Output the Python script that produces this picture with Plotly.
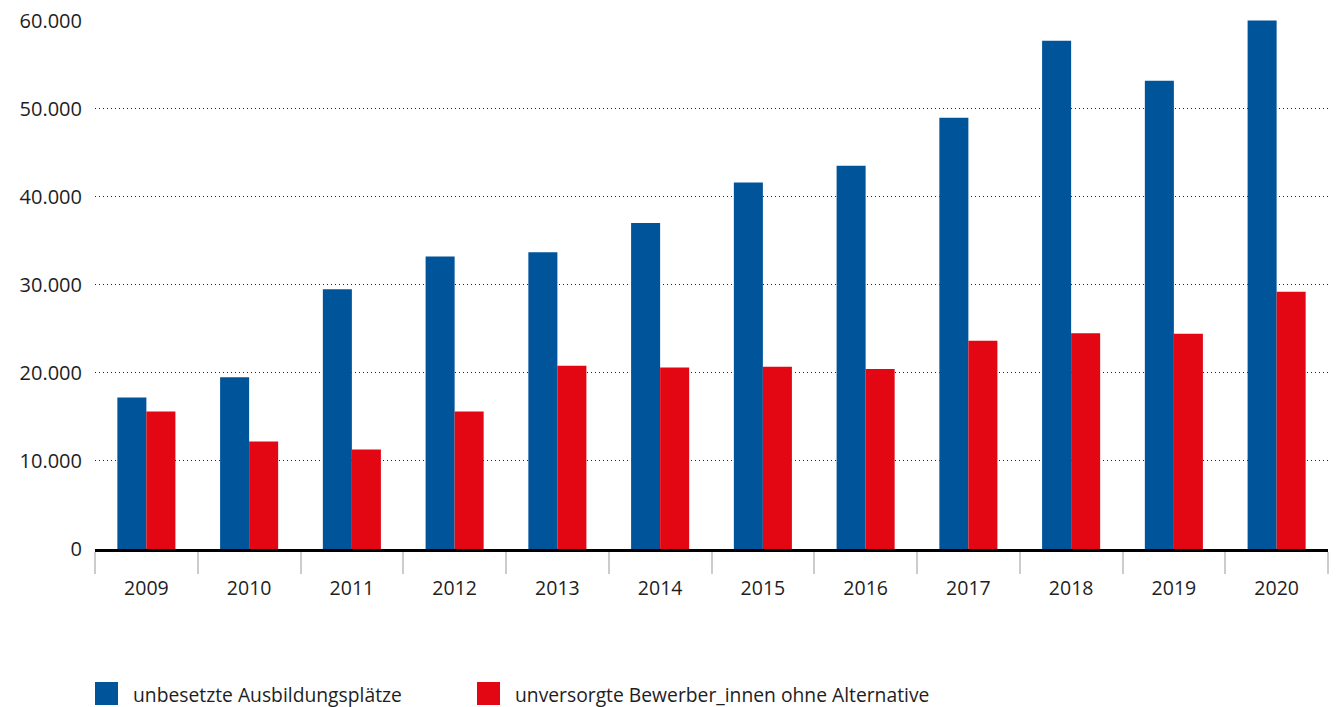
import plotly.graph_objects as go

years = ["2009", "2010", "2011", "2012", "2013", "2014",
         "2015", "2016", "2017", "2018", "2019", "2020"]
unbesetzt = [17200, 19500, 29500, 33200, 33700, 37000,
             41600, 43500, 48950, 57700, 53150, 60000]
unversorgt = [15600, 12200, 11300, 15600, 20800, 20600,
              20700, 20450, 23650, 24500, 24450, 29200]

series_names = ["unbesetzte Ausbildungsplätze",
                "unversorgte Bewerber_innen ohne Alternative"]
blue = "#00559A"
red = "#E30613"
font_family = "Open Sans, Noto Sans, sans-serif"
text_color = "#1e1e1e"

fig = go.Figure()
fig.add_trace(go.Bar(x=years, y=unbesetzt, name=series_names[0],
                     marker=dict(color=blue, line=dict(width=0))))
fig.add_trace(go.Bar(x=years, y=unversorgt, name=series_names[1],
                     marker=dict(color=red, line=dict(width=0))))

# plot box in pixels: left 95, right 1328, top 20, bottom 549
W, H = 1341, 707
L, R, T, B = 95, 1328, 20, 549


def px(xp):
    return (xp - L) / (R - L)


def py(yp):
    return (B - yp) / (B - T)


# custom legend with large square swatches
legend_items = [(95, series_names[0], blue), (477, series_names[1], red)]
shapes = []
annotations = []
for x0, label, col in legend_items:
    shapes.append(dict(type="rect", xref="paper", yref="paper",
                       x0=px(x0), x1=px(x0 + 23), y0=py(705), y1=py(682),
                       fillcolor=col, line=dict(width=0)))
    annotations.append(dict(xref="paper", yref="paper", x=px(x0 + 36), y=py(694),
                            text=label, showarrow=False, xanchor="left",
                            yanchor="middle",
                            font=dict(family=font_family, size=19.3, color=text_color)))

fig.update_layout(
    width=W, height=H,
    margin=dict(l=L, r=W - R, t=T, b=H - B),
    paper_bgcolor="white", plot_bgcolor="white",
    barmode="group", bargap=0.435, bargroupgap=0,
    separators=",.",
    showlegend=False,
    shapes=shapes,
    annotations=annotations,
    font=dict(family=font_family, color=text_color),
    xaxis=dict(
        automargin=False,
        showgrid=False,
        showline=True, linecolor="black", linewidth=3,
        ticks="outside", tickson="boundaries", ticklen=22,
        tickcolor="#cccccc", tickwidth=1.5,
        ticklabelstandoff=20,
        tickfont=dict(size=19.5, color=text_color),
    ),
    yaxis=dict(
        automargin=False,
        range=[0, 60060], tickvals=[0, 10000, 20000, 30000, 40000, 50000, 60000],
        tickformat=",d",
        showgrid=True, gridcolor="#222222", gridwidth=1, griddash="1px,3px",
        zeroline=False, showline=False,
        ticks="", ticklabelstandoff=12,
        tickfont=dict(size=20, color=text_color),
    ),
)

fig.write_html("out.html")
